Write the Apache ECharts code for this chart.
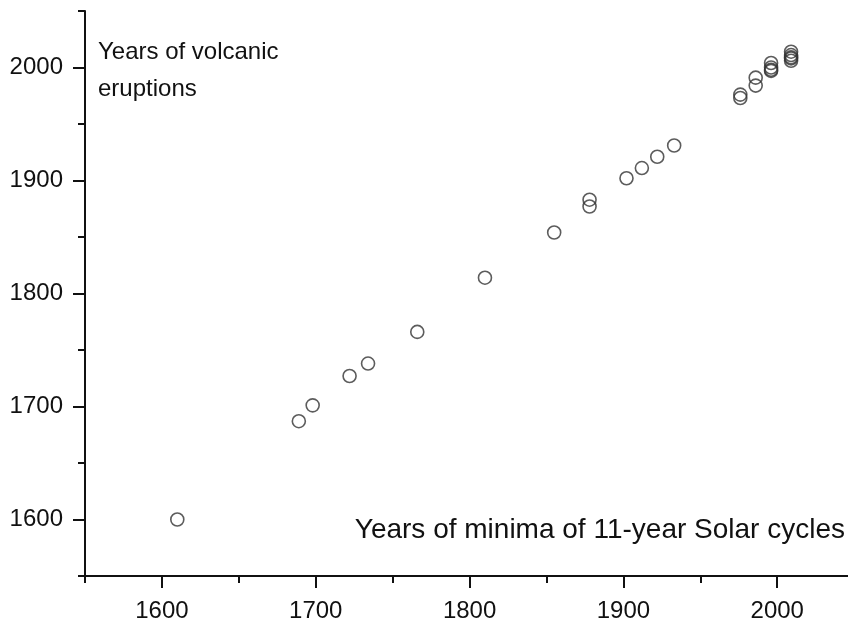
<!DOCTYPE html>
<html lang="en">
<head>
<meta charset="UTF-8">
<title>Volcanic eruptions vs solar minima</title>
<script src="https://cdn.jsdelivr.net/npm/echarts@6/dist/echarts.min.js"></script>
<style>
  html, body { margin: 0; padding: 0; background: #fff; }
  #container { width: 848px; height: 623px; }
</style>
</head>
<body>
<div id="container"></div>
<script>
// years of minima of 11-year solar cycles (x) and years of volcanic eruptions (y)
var solarMinima = [1610, 1689, 1698, 1722, 1734, 1766, 1810, 1855, 1878, 1878,
  1902, 1912, 1922, 1933, 1976, 1976, 1986, 1986, 1996, 1996, 1996, 1996,
  2009, 2009, 2009, 2009, 2009];
var eruptions = [1600, 1687, 1701, 1727, 1738, 1766, 1814, 1854, 1877, 1883,
  1902, 1911, 1921, 1931, 1976, 1973, 1991, 1984, 2004, 2000, 1998, 1997,
  2014, 2011, 2009, 2008, 2006];
var majorTicks = [1600, 1700, 1800, 1900, 2000];
var minorTicks = [1550, 1650, 1750, 1850, 1950, 2050];

var font = 'Liberation Sans, Arial, sans-serif';
var ink = '#111';

var points = [];
for (var i = 0; i < solarMinima.length; i++) {
  points.push([solarMinima[i], eruptions[i]]);
}

// x axis is cut by the right edge of the picture a bit before 2050
function range(pos) {
  return pos == 'bottom' ? { min: 1550, max: 2046 } : { min: 1550, max: 2050 };
}
function mainAxis(pos) {
  var r = range(pos);
  return {
    type: 'value', position: pos, min: r.min, max: r.max,
    axisLine: { show: true, lineStyle: { color: ink, width: 2 } },
    axisTick: { show: true, length: 12, customValues: majorTicks,
      lineStyle: { color: ink, width: 2 } },
    axisLabel: { customValues: majorTicks, margin: pos == 'left' ? 22 : 23,
      fontFamily: font, fontSize: 24, color: ink,
      formatter: function (v) { return String(v); } },
    splitLine: { show: false }
  };
}
function minorAxis(pos) {
  var r = range(pos);
  return {
    type: 'value', position: pos, min: r.min, max: r.max,
    axisLine: { show: false },
    axisTick: { show: true, length: 7, customValues: minorTicks,
      lineStyle: { color: ink, width: 2 } },
    axisLabel: { show: false },
    splitLine: { show: false }
  };
}

var myChart = echarts.init(document.getElementById('container'));
var option = {
  animation: false,
  backgroundColor: '#fff',
  grid: { left: 85, right: 0, top: 11, bottom: 47 },
  xAxis: [mainAxis('bottom'), minorAxis('bottom')],
  yAxis: [mainAxis('left'), minorAxis('left')],
  graphic: [
    { type: 'text', left: 98, top: 34,
      style: { text: 'Years of volcanic\neruptions', font: '24px ' + font,
        fill: ink, lineHeight: 37 } },
    { type: 'text', right: 3, top: 516,
      style: { text: 'Years of minima of 11-year Solar cycles', font: '28px ' + font,
        fill: ink } }
  ],
  series: [{
    type: 'scatter',
    data: points,
    symbol: 'circle',
    symbolSize: 13,
    itemStyle: { color: 'rgba(255,255,255,0)', borderColor: '#333', borderWidth: 1.6 }
  }]
};
myChart.setOption(option);
</script>
</body>
</html>
